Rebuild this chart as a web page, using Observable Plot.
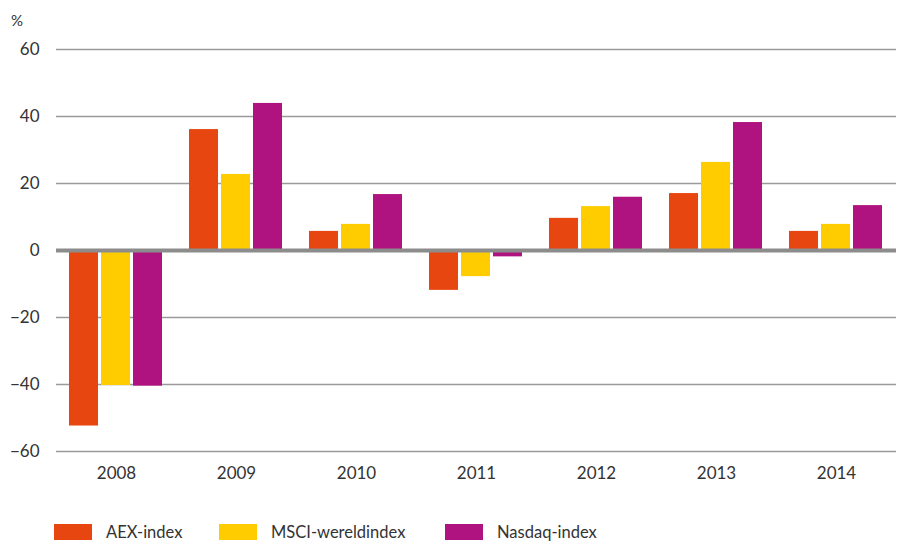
<!DOCTYPE html>
<html>
<head>
<meta charset="utf-8">
<script src="https://cdn.jsdelivr.net/npm/d3@7"></script>
<script src="https://cdn.jsdelivr.net/npm/@observablehq/plot@0.6"></script>
<style>
  html, body { margin: 0; padding: 0; background: #fff; }
  body { width: 897px; height: 544px; position: relative; font-family: Lato, "Open Sans", sans-serif; color: #333; overflow: hidden; }
  #unit { position: absolute; left: 11px; top: 11px; font-size: 15px; }
  #chart { position: absolute; left: 0; top: 30px; }
  #legend { position: absolute; left: 54px; top: 524px; display: flex; align-items: center; font-size: 16.5px; line-height: 16px; }
  .item { display: flex; align-items: center; }
  .item:nth-child(1) { width: 165px; }
  .item:nth-child(2) { width: 226px; }
  .sw { width: 38px; height: 16px; margin-right: 14px; }
</style>
</head>
<body>
<div id="unit">%</div>
<div id="chart"></div>
<div id="legend"></div>
<script>
const years = ["2008", "2009", "2010", "2011", "2012", "2013", "2014"];
const seriesNames = ["AEX-index", "MSCI-wereldindex", "Nasdaq-index"];
const aex = [-52.4, 36.1, 5.7, -11.9, 9.6, 17.0, 5.7];
const msci = [-40.3, 22.7, 7.8, -7.8, 13.1, 26.3, 7.8];
const nasdaq = [-40.5, 43.9, 16.7, -1.9, 15.9, 38.2, 13.4];
const yTicks = [-60, -40, -20, 0, 20, 40, 60];
const colors = ["#E84610", "#FFCC00", "#AF1380"];

const seriesValues = [aex, msci, nasdaq];
const data = [];
years.forEach((yr, i) => {
  seriesNames.forEach((s, j) => {
    data.push({year: yr, series: s, value: seriesValues[j][i]});
  });
});

const chart = Plot.plot({
  width: 897,
  height: 460,
  marginLeft: 55,
  marginRight: 0,
  marginTop: 19,
  marginBottom: 39,
  style: {fontFamily: "Lato, 'Open Sans', sans-serif", fontSize: "17px", color: "#333", background: "transparent"},
  fx: {domain: years, padding: 0, label: null, axis: null},
  x: {domain: seriesNames, paddingInner: 0.08, paddingOuter: 0.4, axis: null},
  y: {domain: [-60, 60], ticks: yTicks, label: null},
  color: {domain: seriesNames, range: colors},
  marks: [
    Plot.ruleY(yTicks, {stroke: "#9a9a9a", strokeWidth: 1.3}),
    Plot.barY(data, {fx: "year", x: "series", y: "value", fill: "series"}),
    Plot.ruleY([0], {stroke: "#8c8c8c", strokeWidth: 4}),
    Plot.axisY(yTicks, {tickSize: 0, tickPadding: 17, label: null, fill: "#333"}),
    Plot.axisFx({anchor: "bottom", tickSize: 0, tickPadding: 15, label: null, fill: "#333"})
  ]
});
document.getElementById("chart").appendChild(chart);

const legend = document.getElementById("legend");
seriesNames.forEach((s, j) => {
  const item = document.createElement("div");
  item.className = "item";
  const sw = document.createElement("div");
  sw.className = "sw";
  sw.style.background = colors[j];
  const label = document.createElement("span");
  label.textContent = s;
  item.appendChild(sw);
  item.appendChild(label);
  legend.appendChild(item);
});
</script>
</body>
</html>
